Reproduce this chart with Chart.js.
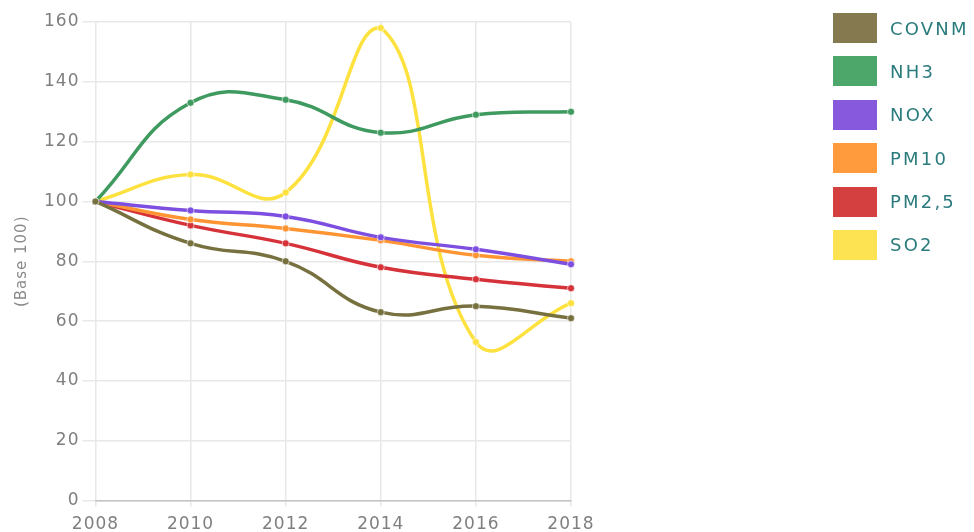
<!DOCTYPE html>
<html>
<head>
<meta charset="utf-8">
<script src="https://cdn.jsdelivr.net/npm/chart.js@4/dist/chart.umd.min.js"></script>
<style>
  html, body { margin: 0; padding: 0; background: #fff; overflow: hidden; }
  #wrap { position: relative; width: 974px; height: 532px; overflow: hidden; }
  #box { position: absolute; left: 0; top: 0; width: 974px; height: 553px; }
  #legende { position: absolute; left: 833px; top: 13px; font-family: "DejaVu Sans", sans-serif; }
  .item { display: flex; align-items: center; height: 30px; margin-bottom: 13.4px; }
  .carre { width: 44px; height: 30px; flex: none; }
  .nom { margin-left: 13px; font-size: 18px; letter-spacing: 2.2px; color: #2b7b7d; white-space: nowrap; }
</style>
</head>
<body>
<div id="wrap">
  <div id="box"><canvas id="canva"></canvas></div>
  <div id="legende"></div>
</div>
<script>
var annees = ["2008", "2010", "2012", "2014", "2016", "2018"];
var covnm = [100, 86, 80, 63, 65, 61];
var nh3 = [100, 133, 134, 123, 129, 130];
var nox = [100, 97, 95, 88, 84, 79];
var pm10 = [100, 94, 91, 87, 82, 80];
var pm25 = [100, 92, 86, 78, 74, 71];
var so2 = [100, 109, 103, 158, 53, 66];

var noms = ["COVNM", "NH3", "NOX", "PM10", "PM2,5", "SO2"];
var valeurs = [covnm, nh3, nox, pm10, pm25, so2];
var couleurs = ["#857a4f", "#4da76a", "#8759dd", "#ff9a3d", "#d43f40", "#fde251"];
var lignes = ["#77703f", "#3f9a5f", "#7d4fe0", "#ff9433", "#d6323a", "#fde23f"];

var grisGrille = "#e8e8e8";
var grisTexte = "#7f7f7f";

var dataset = {
    labels: annees,
    datasets: []
};
for (let i = 0; i < noms.length; i++) {
    dataset.datasets.push({
        label: noms[i],
        data: valeurs[i],
        fill: false,
        borderColor: lignes[i],
        backgroundColor: lignes[i],
        borderWidth: 3.5,
        tension: 0.45,
        pointRadius: 3.5,
        pointBorderWidth: 1,
        pointBorderColor: "rgba(255,255,255,0.6)",
        pointBackgroundColor: lignes[i]
    });
}

// lettres un peu espacees comme la police d'origine
const espacement = {
    id: 'espacement',
    beforeLayout(chart) { chart.ctx.letterSpacing = '1px'; },
    beforeDraw(chart) { chart.ctx.letterSpacing = '1px'; }
};

const ctx = document.getElementById('canva');
const myChart = new Chart(ctx, {
    type: 'line',
    data: dataset,
    plugins: [espacement],
    options: {
        responsive: true,
        maintainAspectRatio: false,
        animation: false,
        layout: {
            padding: { left: 13, top: 22, right: 403, bottom: 10 }
        },
        plugins: {
            legend: { display: false },
            tooltip: { enabled: false }
        },
        scales: {
            x: {
                grid: {
                    color: grisGrille,
                    lineWidth: 1.5,
                    tickLength: 6,
                    drawTicks: true
                },
                border: { color: "#c4c4c4", width: 1.5 },
                ticks: {
                    color: grisTexte,
                    padding: 8,
                    maxRotation: 0,
                    font: { family: "DejaVu Sans", size: 17 }
                }
            },
            y: {
                min: 0,
                max: 160,
                ticks: {
                    stepSize: 20,
                    color: grisTexte,
                    padding: 3,
                    font: { family: "DejaVu Sans", size: 17 }
                },
                grid: {
                    color: grisGrille,
                    lineWidth: 1.5,
                    tickLength: 13
                },
                border: { display: false },
                title: {
                    display: true,
                    text: "(Base 100)",
                    color: "#8a8a8a",
                    padding: { top: 0, bottom: 10 },
                    font: { family: "DejaVu Sans", size: 15 }
                }
            }
        }
    }
});

// legende en html a droite
var legende = document.getElementById("legende");
var txt = "";
for (let i = 0; i < noms.length; i++) {
    txt += '<div class="item"><div class="carre" style="background:' + couleurs[i] + '"></div>'
        + '<span class="nom">' + noms[i] + '</span></div>';
}
legende.innerHTML = txt;
</script>
</body>
</html>
